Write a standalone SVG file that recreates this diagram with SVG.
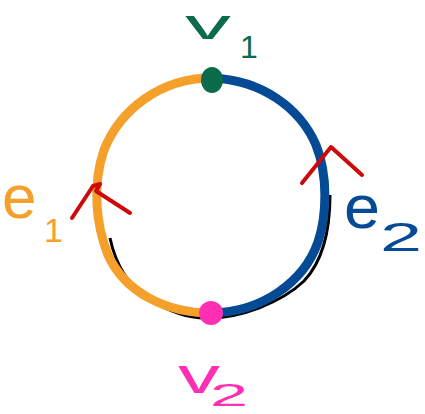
<svg xmlns="http://www.w3.org/2000/svg" width="425" height="414" viewBox="0 0 425 414">
<style>
.edge{fill:none;stroke-width:9;stroke-linecap:round;stroke-linejoin:round}
.mark{fill:none;stroke:#CC0A0A;stroke-width:4;stroke-linecap:round;stroke-linejoin:round}
.lbl{font-family:"Liberation Sans","DejaVu Sans",sans-serif}
</style>
<rect width="425" height="414" fill="#fff"/>
<g id="connectors">
  <path d="M110,238 C115,262 127,285 150,300 C170,312 190,318 205,318 C240,319 282,302 304,281 C321,263 330,236 330,195" fill="none" stroke="#000" stroke-width="3"/>
  <g id="e1">
    <path class="edge" stroke="#F4A02A" d="M212,78 C160,78 120,110 104,150 C92,185 96,225 108,255 C125,292 165,313 212,313"/>
    <path class="mark" d="M72,218 L93,186 L100,184 L96,191 L130,213"/>
    <text class="lbl" x="2" y="218" font-size="62" fill="#F4A02A">e</text>
    <text class="lbl" x="44" y="242" font-size="34" fill="#F4A02A">1</text>
  </g>
  <g id="e2">
    <path class="edge" stroke="#044A94" d="M212,78 C262,80 300,108 316,145 C328,175 327,215 318,242 C304,282 262,312 212,313"/>
    <path class="mark" d="M302,183 L331,147 L362,175"/>
    <text class="lbl" x="344" y="228" font-size="62" fill="#044A94" textLength="36" lengthAdjust="spacingAndGlyphs">e</text>
    <text class="lbl" x="380" y="251" font-size="40" fill="#044A94" textLength="42" lengthAdjust="spacingAndGlyphs">2</text>
  </g>
</g>
<g id="v1">
  <ellipse cx="212" cy="80" rx="11" ry="13" fill="#0B6B4B"/>
  <text class="lbl" x="185" y="39" font-size="43" fill="#0B6B4B" textLength="46" lengthAdjust="spacingAndGlyphs">v</text>
  <text class="lbl" x="240" y="58" font-size="32" fill="#0B6B4B">1</text>
</g>
<g id="v2">
  <circle cx="211" cy="313" r="12" fill="#FF2FB4"/>
  <text class="lbl" x="178" y="393" font-size="50" fill="#FF2FB4" textLength="42" lengthAdjust="spacingAndGlyphs">v</text>
  <text class="lbl" x="210" y="406" font-size="32" fill="#FF2FB4" textLength="38" lengthAdjust="spacingAndGlyphs">2</text>
</g>
</svg>
